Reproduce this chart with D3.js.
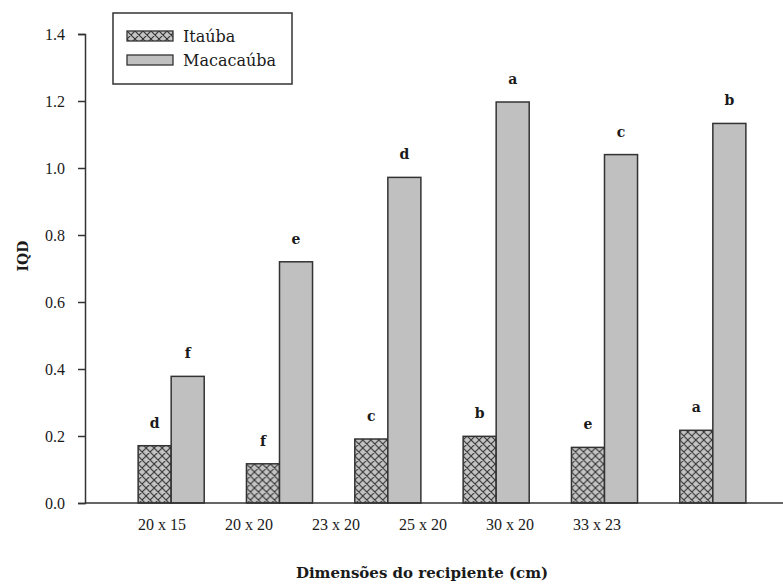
<!DOCTYPE html>
<html>
<head>
<meta charset="utf-8">
<script src="https://cdn.jsdelivr.net/npm/d3@7"></script>
<style>
  body { margin: 0; background: #fff; }
</style>
</head>
<body>
<div id="chart"></div>
<script>
// container sizes (cm) on the x axis
var categories = ["20 x 15", "20 x 20", "23 x 20", "25 x 20", "30 x 20", "33 x 23"];
var seriesNames = ["Itaúba", "Macacaúba"];
// IQD values
var itauba = [0.171, 0.117, 0.191, 0.199, 0.166, 0.217];
var macacauba = [0.378, 0.72, 0.972, 1.197, 1.04, 1.133];
// Tukey letters above the bars
var itaubaLetters = ["d", "f", "c", "b", "e", "a"];
var macacaubaLetters = ["f", "e", "d", "a", "c", "b"];
var yTicks = [0, 0.2, 0.4, 0.6, 0.8, 1.0, 1.2, 1.4];

var width = 783, height = 586;
// Liberation Serif only renders as serif at small regular sizes here,
// so bold / larger text uses DejaVu Serif
var serif = "Liberation Serif";
var serif2 = "DejaVu Serif";

var svg = d3.select("#chart").append("svg")
  .attr("width", width)
  .attr("height", height);

var defs = svg.append("defs");
var pat = defs.append("pattern")
  .attr("id", "xhatch")
  .attr("patternUnits", "userSpaceOnUse")
  .attr("width", 8).attr("height", 8);
pat.append("rect").attr("width", 8).attr("height", 8).attr("fill", "#c4c4c4");
pat.append("path")
  .attr("d", "M0,0 L8,8 M8,0 L0,8 M-1,7 L1,9 M7,-1 L9,1")
  .attr("stroke", "#333").attr("stroke-width", 1.1);

var y = d3.scaleLinear().domain([0, 1.4]).range([503, 34]);

// bar groups
var x0 = d3.scaleBand().domain(categories).range([117, 767])
  .paddingInner(0.39).paddingOuter(0.195);
var x1 = d3.scaleBand().domain(seriesNames).range([0, x0.bandwidth()]);

// tick labels sit on their own spacing in the original figure
var xLab = d3.scaleBand().domain(categories).range([118.5, 640.5]);

var rows = categories.map(function (c, i) {
  return [
    { cat: c, s: "Itaúba", v: itauba[i], l: itaubaLetters[i] },
    { cat: c, s: "Macacaúba", v: macacauba[i], l: macacaubaLetters[i] }
  ];
});

var fills = { "Itaúba": "url(#xhatch)", "Macacaúba": "#c0c0c0" };

var g = svg.selectAll("g.grp")
  .data(rows)
  .enter().append("g")
  .attr("class", "grp")
  .attr("transform", function (d) { return "translate(" + x0(d[0].cat) + ",0)"; });

g.selectAll("rect")
  .data(function (d) { return d; })
  .enter().append("rect")
  .attr("x", function (d) { return x1(d.s); })
  .attr("y", function (d) { return y(d.v); })
  .attr("width", x1.bandwidth())
  .attr("height", function (d) { return y(0) - y(d.v); })
  .attr("fill", function (d) { return fills[d.s]; })
  .attr("stroke", "#333")
  .attr("stroke-width", 1.5);

g.selectAll("text.letter")
  .data(function (d) { return d; })
  .enter().append("text")
  .attr("class", "letter")
  .attr("x", function (d) { return x1(d.s) + x1.bandwidth() / 2; })
  .attr("y", function (d) { return y(d.v) - 18; })
  .attr("text-anchor", "middle")
  .attr("font-family", serif2)
  .attr("font-size", 14)
  .attr("font-weight", "bold")
  .attr("fill", "#1a1a1a")
  .text(function (d) { return d.l; });

// y axis
var yAxis = d3.axisLeft(y).tickValues(yTicks).tickSize(7).tickPadding(13)
  .tickFormat(d3.format(".1f"));
var ya = svg.append("g").attr("transform", "translate(85,0)").call(yAxis);
ya.attr("font-family", serif).attr("font-size", 16);
ya.select(".domain").attr("stroke", "#333").attr("stroke-width", 1.5);
ya.selectAll(".tick line").attr("stroke", "#333").attr("stroke-width", 1.5);
ya.selectAll(".tick text").attr("fill", "#1a1a1a");

// x axis
var xAxis = d3.axisBottom(xLab).tickSize(0).tickPadding(16);
var xa = svg.append("g").attr("transform", "translate(0,503)").call(xAxis);
xa.attr("font-family", serif).attr("font-size", 16);
xa.select(".domain").remove();
xa.selectAll(".tick text").attr("fill", "#1a1a1a");
svg.append("line")
  .attr("x1", 85).attr("x2", 783)
  .attr("y1", 503).attr("y2", 503)
  .attr("stroke", "#333").attr("stroke-width", 1.5);

// axis titles
svg.append("text")
  .attr("transform", "translate(28,256) rotate(-90)")
  .attr("text-anchor", "middle")
  .attr("font-family", serif2).attr("font-size", 14)
  .attr("font-weight", "bold").attr("fill", "#1a1a1a")
  .text("IQD");

svg.append("text")
  .attr("x", 422).attr("y", 578)
  .attr("text-anchor", "middle")
  .attr("font-family", serif2).attr("font-size", 15)
  .attr("font-weight", "bold").attr("fill", "#1a1a1a")
  .text("Dimensões do recipiente (cm)");

// legend
var legend = svg.append("g");
legend.append("rect")
  .attr("x", 113).attr("y", 13).attr("width", 179).attr("height", 71)
  .attr("fill", "#fff").attr("stroke", "#333").attr("stroke-width", 1.5);
var li = legend.selectAll("g.item")
  .data(seriesNames)
  .enter().append("g")
  .attr("class", "item")
  .attr("transform", function (d, i) { return "translate(127," + (31 + i * 24) + ")"; });
li.append("rect")
  .attr("width", 46).attr("height", 10)
  .attr("fill", function (d) { return fills[d]; })
  .attr("stroke", "#333").attr("stroke-width", 1.3);
li.append("text")
  .attr("x", 56).attr("y", 11)
  .attr("font-family", serif2).attr("font-size", 16).attr("fill", "#1a1a1a")
  .text(function (d) { return d; });
</script>
</body>
</html>
